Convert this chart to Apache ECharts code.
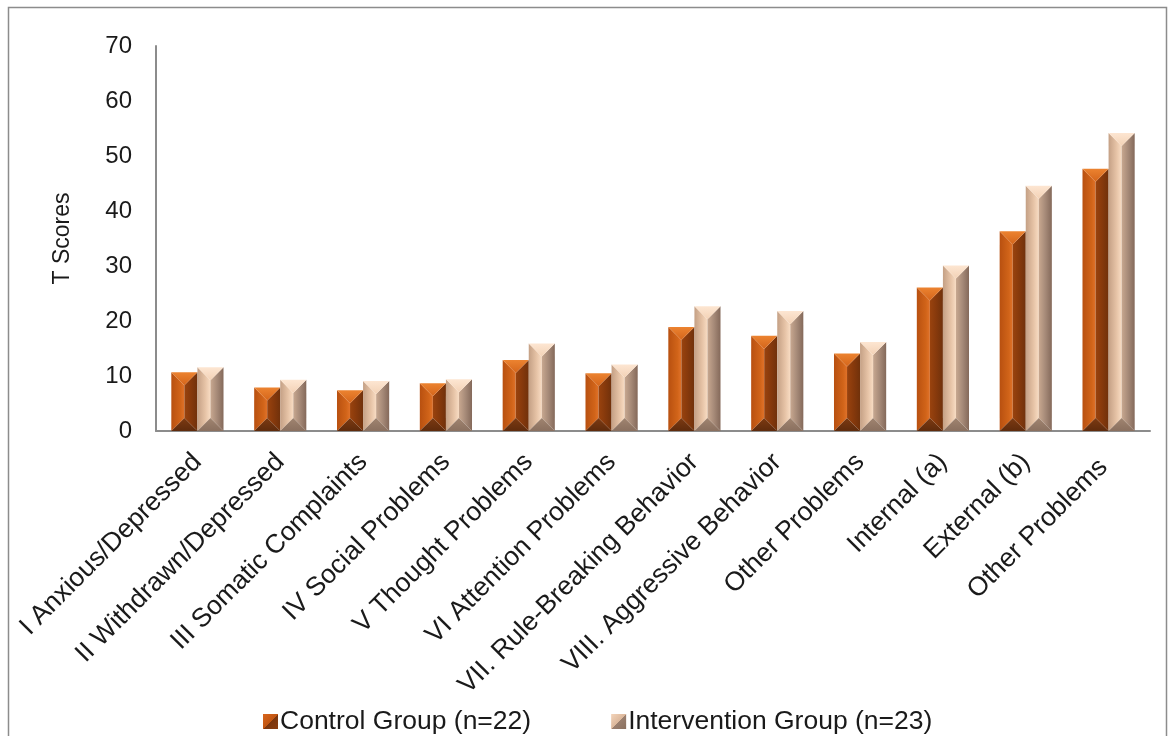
<!DOCTYPE html>
<html>
<head>
<meta charset="utf-8">
<script src="https://cdn.jsdelivr.net/npm/echarts@6/dist/echarts.min.js"></script>
<style>
  html, body { margin: 0; padding: 0; background: #fff; }
  #chart { width: 1169px; height: 736px; }
</style>
</head>
<body>
<div id="chart"></div>
<script>
// CBCL scale categories
const categories = [
  'I Anxious/Depressed',
  'II Withdrawn/Depressed',
  'III Somatic Complaints',
  'IV Social Problems',
  'V Thought Problems',
  'VI Attention Problems',
  'VII. Rule-Breaking Behavior',
  'VIII. Aggressive Behavior',
  'Other Problems',
  'Internal (a)',
  'External (b)',
  'Other Problems '
];
const controlScores = [10.7, 7.9, 7.4, 8.7, 12.9, 10.5, 18.9, 17.3, 14.1, 26.1, 36.3, 47.7];
const interventionScores = [11.6, 9.3, 9.1, 9.4, 15.9, 12.1, 22.7, 21.8, 16.2, 30.1, 44.6, 54.2];
const seriesNames = ['Control Group (n=22)', 'Intervention Group (n=23)'];
const yTicks = { min: 0, max: 70, interval: 10 };

const chart = echarts.init(document.getElementById('chart'));
const G = echarts.graphic;

function grad(x2, y2, stops) {
  return new G.LinearGradient(0, 0, x2, y2,
    stops.map(s => ({ offset: s[0], color: s[1] })));
}

// Bevelled prism shading for each group
const palettes = [
  {
    top: grad(0, 1, [[0, '#ec8330'], [1, '#d4651b']]),
    left: grad(1, 0, [[0, '#b85010'], [0.7, '#d16419'], [1, '#e0722a']]),
    right: grad(1, 0, [[0, '#9a430e'], [0.5, '#86390c'], [1, '#70310b']]),
    bottom: grad(0, 1, [[0, '#7c3a12'], [1, '#5f2b0c']]),
    legend: grad(1, 1, [[0, '#d8661c'], [0.5, '#c25612'], [0.5, '#7a360e'], [1, '#8a3e10']])
  },
  {
    top: grad(0, 1, [[0, '#fde6d2'], [1, '#f3d2b6']]),
    left: grad(1, 0, [[0, '#c4a085'], [0.6, '#e6c3a6'], [1, '#f8dcc3']]),
    right: grad(1, 0, [[0, '#c8a890'], [0.5, '#a68a78'], [1, '#84695a']]),
    bottom: grad(0, 1, [[0, '#a08470'], [1, '#8a705f']]),
    legend: grad(1, 1, [[0, '#f3d4ba'], [0.5, '#dcb89c'], [0.5, '#9b8070'], [1, '#8a705f']])
  }
];

function prismRenderer(slot) {
  const pal = palettes[slot];
  return function (params, api) {
    const idx = api.value(0);
    const val = api.value(1);
    const topPt = api.coord([idx, val]);
    const basePt = api.coord([idx, 0]);
    const band = api.size([1, 0])[0];
    const w = band * 0.315;
    const x0 = slot === 0 ? topPt[0] - w : topPt[0];
    const x1 = x0 + w;
    const xm = (x0 + x1) / 2;
    const yt = topPt[1];
    const yb = basePt[1];
    const d = Math.min(w / 2, (yb - yt) / 2);
    const poly = (pts, fill) => ({
      type: 'polygon',
      shape: { points: pts },
      style: { fill: fill, stroke: null }
    });
    return {
      type: 'group',
      children: [
        poly([[x0, yt], [xm, yt + d], [xm, yb - d], [x0, yb]], pal.left),
        poly([[xm, yt + d], [x1, yt], [x1, yb], [xm, yb - d]], pal.right),
        poly([[x0, yt], [x1, yt], [xm, yt + d]], pal.top),
        poly([[x0, yb], [xm, yb - d], [x1, yb]], pal.bottom)
      ]
    };
  };
}

const fontFamily = 'Liberation Sans, Arial, sans-serif';

chart.setOption({
  animation: false,
  backgroundColor: '#ffffff',
  textStyle: { fontFamily },
  graphic: [{
    type: 'rect',
    shape: { x: 8.5, y: 7.5, width: 1158, height: 740 },
    style: { fill: 'none', stroke: '#8c8c8c', lineWidth: 1.5 },
    silent: true,
    z: -1
  }],
  grid: { left: 156, right: 19, top: 46, bottom: 305, containLabel: false },
  legend: {
    top: 703,
    left: 258,
    itemWidth: 15,
    itemHeight: 15,
    itemGap: 80,
    icon: 'rect',
    textStyle: { fontSize: 26.5, color: '#1a1a1a', fontFamily, padding: [0, 0, 0, -3] },
    data: seriesNames
  },
  xAxis: {
    type: 'category',
    data: categories,
    axisLine: { lineStyle: { color: '#8c8c8c', width: 2 } },
    axisTick: { show: false },
    axisLabel: {
      interval: 0,
      rotate: 45,
      fontSize: 26.5,
      color: '#1a1a1a',
      margin: 27,
      fontFamily
    }
  },
  yAxis: {
    type: 'value',
    min: yTicks.min,
    max: yTicks.max,
    interval: yTicks.interval,
    name: 'T Scores',
    nameLocation: 'middle',
    nameGap: 82,
    nameTextStyle: { fontSize: 23, color: '#1a1a1a', fontFamily },
    axisLine: { show: true, lineStyle: { color: '#8c8c8c', width: 2 } },
    axisTick: { show: false },
    splitLine: { show: false },
    axisLabel: { fontSize: 24, color: '#1a1a1a', margin: 24, fontFamily }
  },
  series: [
    {
      name: seriesNames[0],
      type: 'custom',
      renderItem: prismRenderer(0),
      encode: { x: 0, y: 1 },
      data: controlScores.map((v, i) => [i, v]),
      itemStyle: { color: palettes[0].legend }
    },
    {
      name: seriesNames[1],
      type: 'custom',
      renderItem: prismRenderer(1),
      encode: { x: 0, y: 1 },
      data: interventionScores.map((v, i) => [i, v]),
      itemStyle: { color: palettes[1].legend }
    }
  ]
});
</script>
</body>
</html>
